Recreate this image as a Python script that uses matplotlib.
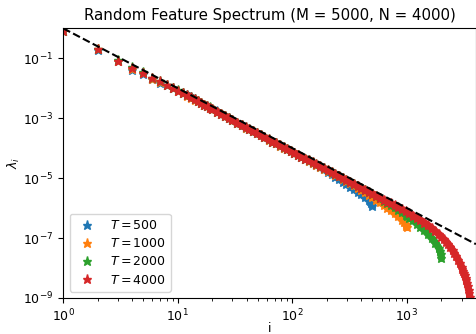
import matplotlib
matplotlib.use("Agg")
import matplotlib.pyplot as plt
from matplotlib.ticker import NullLocator

# ---- data ----
i_head = [1, 2, 3, 4, 5, 6, 7, 8, 9, 10, 11, 12, 13, 14, 15, 16, 17, 18, 19, 20,
          22, 24, 26, 28, 30, 33, 36, 39, 42, 45, 49, 53, 57, 62, 67, 72, 78, 84, 90, 97,
          104, 112, 120, 129, 139, 150, 162, 175, 189, 204,
          220, 237, 255, 275, 296, 319, 344, 371, 400, 431, 465]

i_T500 = i_head + [480, 490, 495, 500]
i_T1000 = i_head + [500, 540, 580, 625, 675, 725, 780, 840, 905, 950, 975, 990, 1000]
i_T2000 = i_head + [500, 540, 580, 625, 675, 725, 780, 840, 905, 975, 1000, 1050, 1130,
                    1220, 1310, 1410, 1520, 1640, 1770, 1900, 1950, 1980, 2000]
i_T4000 = i_head + [500, 540, 580, 625, 675, 725, 780, 840, 905, 975,
                    1050, 1130, 1220, 1310, 1410, 1520, 1640, 1770, 1900, 2000,
                    2100, 2200, 2300, 2400, 2500, 2600, 2700, 2800, 2900,
                    3000, 3050, 3100, 3150, 3200, 3250, 3300, 3350, 3400, 3450, 3500, 3550, 3600,
                    3700, 3800, 3900, 4000]

lam_T500 = [0.80, 0.185, 0.082, 0.040, 0.031, 0.020, 0.015, 0.0125, 0.0100, 0.0083,
            0.0070, 0.0061, 0.0052, 0.0043, 0.00370, 0.00318, 0.00286, 0.00250, 0.00226, 0.00204,
            0.00168, 0.00138, 0.00117, 0.00099, 0.000850,
            0.000692, 0.000575, 0.000490, 0.000428, 0.000368,
            0.000312, 0.000266, 0.000230, 0.000194, 0.000166, 0.000144, 0.000122, 0.000105, 9.2e-5, 7.9e-5,
            6.9e-5, 5.95e-5, 5.18e-5, 4.48e-5, 3.85e-5, 3.30e-5, 2.80e-5, 2.35e-5, 1.96e-5, 1.64e-5,
            1.37e-5, 1.13e-5, 9.3e-6, 7.6e-6, 6.3e-6, 5.2e-6, 4.3e-6, 3.5e-6, 2.85e-6, 2.3e-6, 1.85e-6,
            1.66e-6, 1.50e-6, 1.36e-6, 1.20e-6]

lam_T1000 = [0.80, 0.20, 0.084, 0.045, 0.032, 0.021, 0.0168, 0.0126, 0.0101, 0.0081,
             0.0067, 0.0057, 0.0049, 0.00420, 0.00365, 0.00316, 0.00280, 0.00252, 0.00225, 0.00202,
             0.00163, 0.00139, 0.00115, 0.00099, 0.000845,
             0.000685, 0.000574, 0.000490, 0.000422, 0.000369,
             0.000311, 0.000266, 0.000230, 0.000194, 0.000166, 0.000144, 0.000122, 0.000105, 9.2e-5, 7.9e-5,
             6.9e-5, 5.95e-5, 5.19e-5, 4.49e-5, 3.86e-5, 3.32e-5, 2.85e-5, 2.44e-5, 2.09e-5, 1.79e-5,
             1.54e-5, 1.32e-5, 1.14e-5, 9.68e-6, 8.17e-6, 6.87e-6, 5.78e-6, 4.85e-6, 4.08e-6, 3.36e-6, 2.82e-6,
             2.33e-6, 1.91e-6, 1.58e-6, 1.30e-6, 1.04e-6, 8.39e-7, 6.78e-7, 5.32e-7, 4.09e-7,
             3.31e-7, 2.93e-7, 2.59e-7, 2.26e-7]

lam_T2000 = [0.80, 0.20, 0.090, 0.052, 0.034, 0.022, 0.0172, 0.0130, 0.0104, 0.0086,
             0.0069, 0.0059, 0.0050, 0.00435, 0.00378, 0.00324, 0.00286, 0.00256, 0.00230, 0.00208,
             0.00167, 0.00141, 0.00117, 0.00101, 0.000858,
             0.000690, 0.000580, 0.000495, 0.000426, 0.000372,
             0.000314, 0.000268, 0.000232, 0.000196, 0.000167, 0.000145, 0.000123, 0.000106, 9.27e-5, 7.96e-5,
             6.93e-5, 5.98e-5, 5.21e-5, 4.51e-5, 3.88e-5, 3.33e-5, 2.86e-5, 2.45e-5, 2.10e-5, 1.80e-5,
             1.55e-5, 1.33e-5, 1.15e-5, 9.91e-6, 8.55e-6, 7.36e-6, 6.34e-6, 5.45e-6, 4.69e-6, 4.04e-6, 3.47e-6,
             2.98e-6, 2.51e-6, 2.13e-6, 1.79e-6, 1.50e-6, 1.27e-6, 1.05e-6, 8.83e-7, 7.28e-7, 5.98e-7,
             5.56e-7, 4.82e-7, 3.88e-7, 3.03e-7, 2.40e-7, 1.85e-7, 1.38e-7, 1.01e-7, 7.06e-8, 4.65e-8,
             3.76e-8, 2.96e-8, 2.10e-8]

lam_T4000 = [0.80, 0.20, 0.084, 0.046, 0.032, 0.022, 0.017, 0.0128, 0.0102, 0.0084,
             0.00695, 0.00585, 0.00498, 0.0043, 0.00374, 0.00321, 0.00284, 0.00254, 0.00228, 0.00206,
             0.00166, 0.0014, 0.00116, 0.0010, 0.000853,
             0.000689, 0.000578, 0.000493, 0.000425, 0.000371,
             0.000313, 0.000267, 0.000231, 0.000195, 0.000167, 0.000145, 0.000123, 0.000106, 9.27e-5, 7.96e-5,
             6.93e-5, 5.98e-5, 5.21e-5, 4.51e-5, 3.88e-5, 3.33e-5, 2.86e-5, 2.45e-5, 2.10e-5, 1.80e-5,
             1.55e-5, 1.33e-5, 1.15e-5, 9.91e-6, 8.55e-6, 7.36e-6, 6.34e-6, 5.45e-6, 4.69e-6, 4.04e-6, 3.47e-6,
             3.00e-6, 2.57e-6, 2.23e-6, 1.92e-6, 1.64e-6, 1.43e-6, 1.23e-6, 1.06e-6, 9.16e-7, 7.89e-7,
             6.65e-7, 5.61e-7, 4.70e-7, 3.98e-7, 3.29e-7, 2.70e-7, 2.16e-7, 1.69e-7, 1.34e-7, 1.10e-7,
             9.14e-8, 7.59e-8, 6.19e-8, 4.95e-8, 3.97e-8, 3.13e-8, 2.47e-8, 1.91e-8, 1.45e-8,
             1.10e-8, 9.46e-9, 7.98e-9, 6.73e-9, 5.69e-9, 4.69e-9, 3.87e-9, 3.13e-9, 2.47e-9, 1.90e-9,
             1.44e-9, 1.04e-9, 6.95e-10,
             2.2e-10, 3.2e-11, 3e-12, 1e-13]

series_labels = [r"$T = 500$", r"$T = 1000$", r"$T = 2000$", r"$T = 4000$"]

# reference power law (dashed): endpoints
ref_i = [1, 4000]
ref_lam = [1.0, 6.25e-8]

title = "Random Feature Spectrum (M = 5000, N = 4000)"

# ---- plot ----
plt.rcParams["font.size"] = 9
fig = plt.figure(figsize=(4.77, 3.34), dpi=100)
ax = fig.add_axes([0.1327, 0.108, 0.865, 0.807])

dense_from = 11  # from i = 12 on the stars overlap into a solid band
colors = ["C0", "C1", "C2", "C3"]
for xs, ys, lab, c in zip([i_T500, i_T1000, i_T2000, i_T4000],
                          [lam_T500, lam_T1000, lam_T2000, lam_T4000], series_labels, colors):
    ax.plot(xs[dense_from:], ys[dense_from:], "-", color=c, linewidth=5.2,
            solid_capstyle="round", solid_joinstyle="round")
    ax.plot(xs, ys, "*", color=c, markersize=6.5, label=lab)

ax.plot(ref_i, ref_lam, "--", color="black", linewidth=1.5, zorder=5)

ax.set_xscale("log")
ax.set_yscale("log")
ax.set_xlim(1, 4000)
ax.set_ylim(1e-9, 1)
ax.set_yticks([1e-9, 1e-7, 1e-5, 1e-3, 1e-1])
ax.yaxis.set_minor_locator(NullLocator())
ax.set_xlabel("i", labelpad=-1.5)
ax.set_ylabel(r"$\lambda_i$", labelpad=1)
ax.set_title(title)
ax.legend(loc="lower left", labelspacing=0.42)

fig.savefig("out.png", dpi=100)
